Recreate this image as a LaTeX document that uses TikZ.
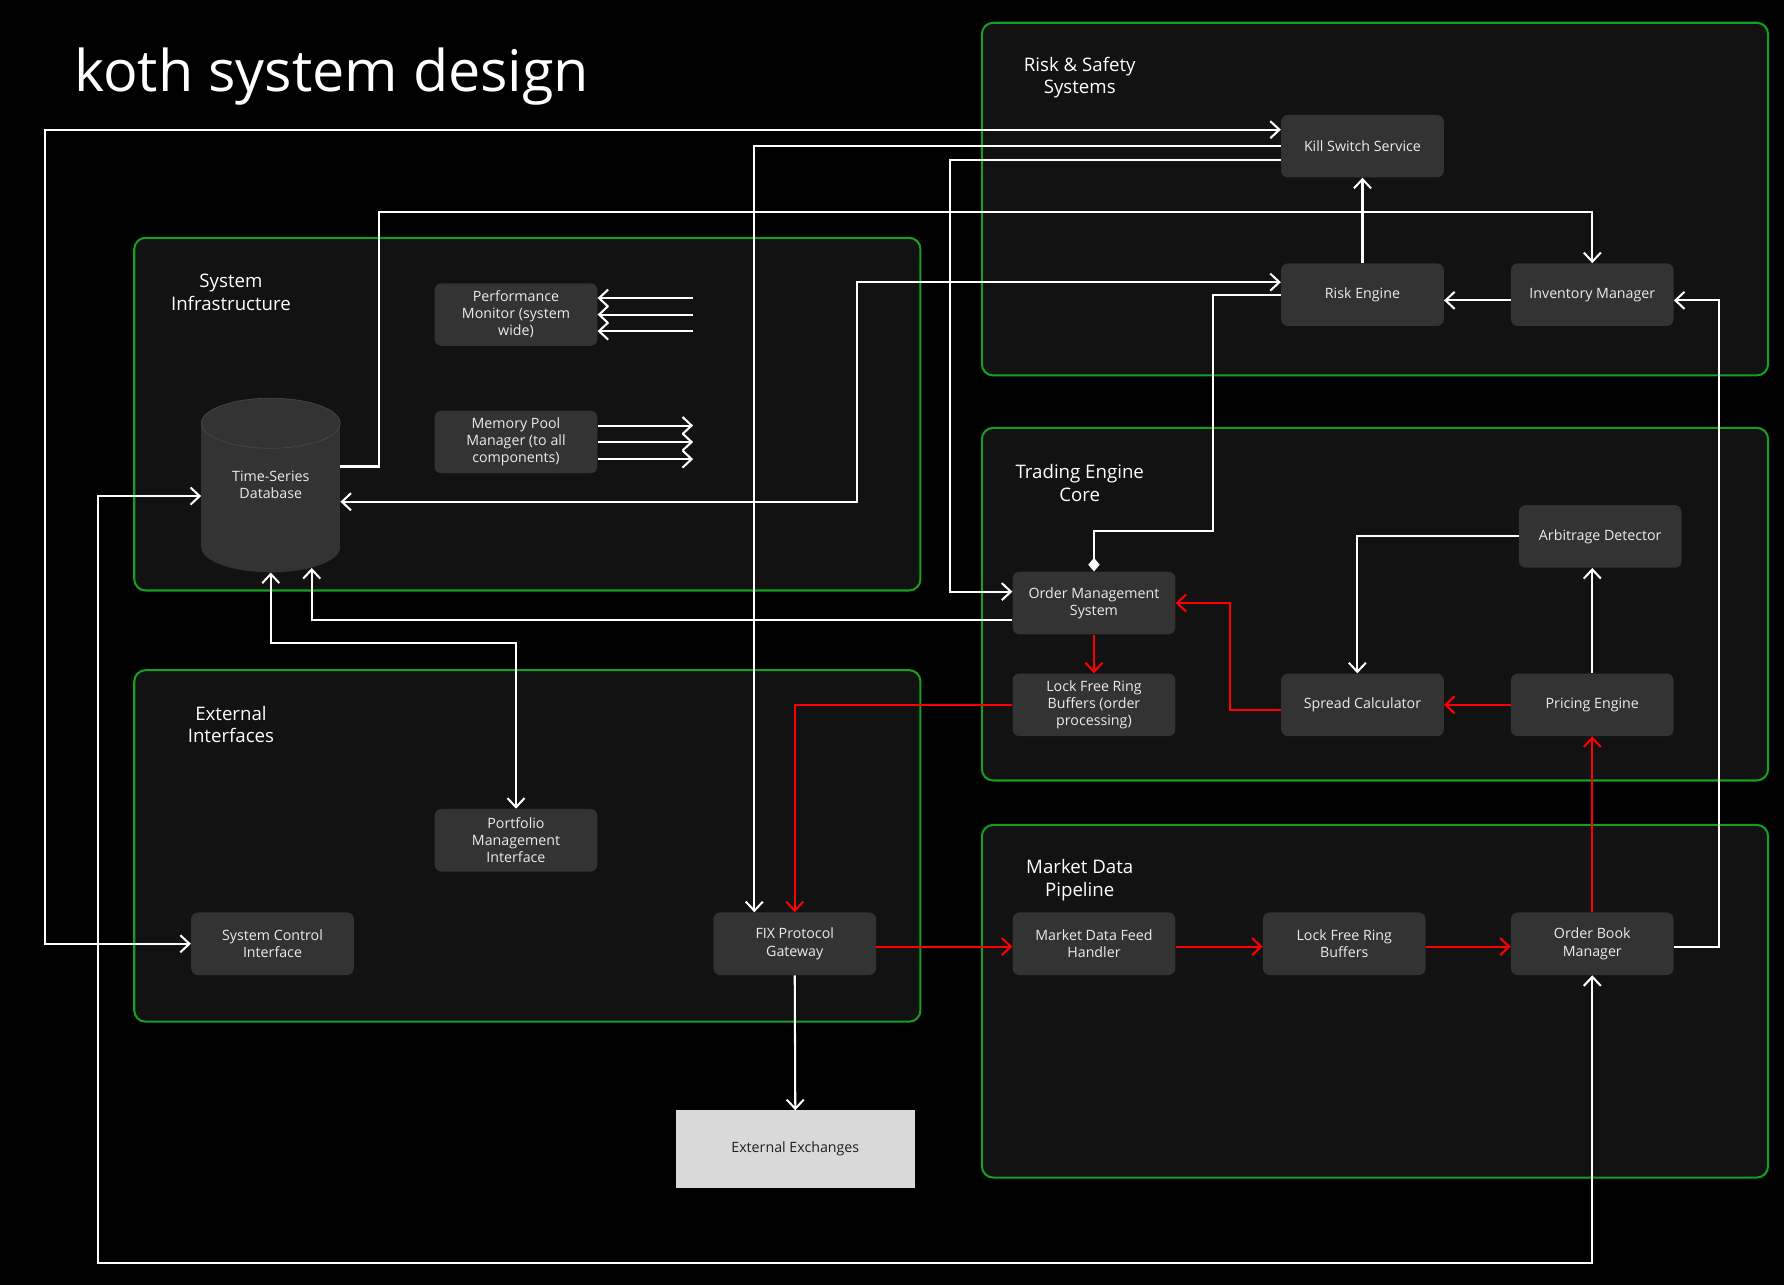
\documentclass[tikz,border=0pt]{standalone}
\usepackage{fontspec}
\setmainfont{Open Sans}
\usetikzlibrary{arrows.meta}
\definecolor{grp-green}{RGB}{22,158,34}
\definecolor{grp-fill}{gray}{0.07}
\definecolor{box-gray}{gray}{0.2}
\definecolor{box-text}{gray}{0.92}
\definecolor{db-rim}{gray}{0.28}
\definecolor{ext-gray}{gray}{0.85}
\definecolor{ext-text}{gray}{0.12}
\definecolor{red-line}{RGB}{255,0,0}
\newcommand*\boxfont{\fontsize{12.5}{15}\selectfont}
\newcommand*\grpfont{\fontsize{16.4}{19.5}\selectfont}
\newcommand*\ttlfont{\fontsize{50.5}{60}\selectfont}

\begin{document}
\begin{tikzpicture}[x=1pt,y=-1pt,
				>={Straight Barb[length=8pt,width=15pt]},
				grpbox/.style={draw=grp-green,line width=1.8pt,fill=grp-fill,rounded corners=10pt,minimum width=691pt,minimum height=310pt,inner sep=0pt},
				grplabel/.style={text=white,font=\grpfont,align=center,inner sep=0pt,yshift=-2.5pt},
				compbox/.style={fill=box-gray,text=box-text,font=\boxfont,align=center,rounded corners=6pt,minimum width=143pt,minimum height=55pt,inner sep=0pt},
				dbnode/.style={text=box-text,font=\boxfont,align=center,minimum width=122pt,minimum height=153pt,inner sep=0pt},
				extbox/.style={fill=ext-gray,text=ext-text,font=\boxfont,minimum width=210pt,minimum height=68pt,inner sep=0pt},
				wire/.style={draw=white,line width=1.8pt},
				redwire/.style={draw=red-line,line width=1.8pt}]
				\fill[black] (0,0) rectangle (1568,1129);
				\useasboundingbox (0,0) rectangle (1568,1129);
				\node[text=white,font=\ttlfont,anchor=base west,inner sep=0pt] (title) at (65,80) {koth system design};

				% groups
				\node[grpbox] (riskgrp) at (1208.5,175) {};
				\node[grpbox] (infragrp) at (463.5,364) {};
				\node[grpbox] (tradegrp) at (1208.5,531) {};
				\node[grpbox,minimum height=309pt] (extgrp) at (463.5,743.5) {};
				\node[grpbox] (mdgrp) at (1208.5,880) {};
				\node[grplabel] (risklbl) at (949,66) {Risk \& Safety\\Systems};
				\node[grplabel] (infralbl) at (203,254.5) {System\\Infrastructure};
				\node[grplabel] (tradelbl) at (949,422) {Trading Engine\\Core};
				\node[grplabel] (extlbl) at (203,634.5) {External\\Interfaces};
				\node[grplabel] (mdlbl) at (949,771) {Market Data\\Pipeline};

				% components
				\node[compbox] (kill) at (1197.5,128.5) {Kill Switch Service};
				\node[compbox] (risk) at (1197.5,259) {Risk Engine};
				\node[compbox] (inv) at (1399.5,259) {Inventory Manager};
				\node[compbox] (perf) at (453.5,276.5) {Performance\\Monitor (system\\wide)};
				\node[compbox] (mempool) at (453.5,388.5) {Memory Pool\\Manager (to all\\components)};
				\fill[box-gray] (238,481) ellipse[x radius=61pt,y radius=22pt];
				\fill[box-gray] (177,372) rectangle (299,481);
				\draw[db-rim,fill=box-gray,line width=0.6pt] (238,372) ellipse[x radius=61pt,y radius=22pt];
				\node[dbnode] (db) at (238,426.5) {Time-Series\\Database};
				\node[compbox] (oms) at (961.5,530) {Order Management\\System};
				\node[compbox] (lfrbo) at (961.5,619.5) {Lock Free Ring\\Buffers (order\\processing)};
				\node[compbox] (spread) at (1197.5,619.5) {Spread Calculator};
				\node[compbox] (pricing) at (1399.5,619.5) {Pricing Engine};
				\node[compbox] (arb) at (1406.5,471.5) {Arbitrage Detector};
				\node[compbox] (port) at (453.5,738.5) {Portfolio\\Management\\Interface};
				\node[compbox] (sci) at (239.5,829.5) {System Control\\Interface};
				\node[compbox] (fix) at (698.5,829.5) {FIX Protocol\\Gateway};
				\node[compbox] (mdfh) at (961.5,829.5) {Market Data Feed\\Handler};
				\node[compbox] (lfrb) at (1181.5,829.5) {Lock Free Ring\\Buffers};
				\node[compbox] (obm) at (1399.5,829.5) {Order Book\\Manager};
				\node[extbox] (exch) at (699,1010) {External Exchanges};

				% white links
				\draw[wire,<->] (sci.west) -- ++(-128,0) |- ([yshift=14.5pt]kill.west);
				\draw[wire,->] (kill.west) -| ([xshift=-35.5pt]fix.north);
				\draw[wire,->] ([yshift=-12.5pt]kill.west) -- ++(-291,0) |- ([yshift=10pt]oms.west);
				\draw[wire,->] (risk.north) -- (kill.south);
				\draw[wire,->] ([yshift=-5pt]inv.west) -- ([yshift=-5pt]risk.east);
				\draw[wire,->] ([yshift=16.5pt]db.east) -| (333,186) -| (inv.north);
				\draw[wire,<->] ([yshift=11pt]risk.west) -| (753,441) -- ([yshift=-14.5pt]db.east);
				\draw[wire,-{Diamond[length=12pt,width=10pt]}] (risk.west) -| (1066,467) -| (oms.north);
				\draw[wire,->] ([yshift=-2.5pt]obm.east) -| (1511,264) -- ([yshift=-5pt]inv.east);
				\draw[wire,->] (arb.west) -| ([xshift=-4.5pt]spread.north);
				\draw[wire,->] (pricing.north) -- (pricing.north |- arb.south);
				\draw[wire,<->] ([yshift=-9.5pt]db.west) -| (86,1110) -| (obm.south);
				\draw[wire,->] ([yshift=-15pt]oms.west) -| ([xshift=36pt,yshift=4pt]db.south);
				\draw[wire,<->] (db.south) -- ++(0,62) -| (port.north);
				\draw[wire,->] (fix.south) -- (exch.north);
				\foreach \dy in {14.5,0,-14.5}
					\draw[wire,<-] ([yshift=\dy pt]perf.east) -- ++(84,0);
				\foreach \dy in {14.5,0,-15}
					\draw[wire,->] ([yshift=\dy pt]mempool.east) -- ++(84,0);

				% red links
				\draw[redwire,->] (pricing.west) -- (spread.east);
				\draw[redwire,->] ([yshift=-4.5pt]spread.west) -- ++(-45,0) |- (oms.east);
				\draw[redwire,->] (oms.south) -- (lfrbo.north);
				\draw[redwire,->] (lfrbo.west) -| (fix.north);
				\draw[redwire,->] ([yshift=-2.5pt]fix.east) -- ([yshift=-2.5pt]mdfh.west);
				\draw[redwire,->] ([yshift=-2.5pt]mdfh.east) -- ([yshift=-2.5pt]lfrb.west);
				\draw[redwire,->] ([yshift=-2.5pt]lfrb.east) -- ([yshift=-2.5pt]obm.west);
				\draw[redwire,->] (obm.north) -- (pricing.south);
				\end{tikzpicture}
\end{document}
